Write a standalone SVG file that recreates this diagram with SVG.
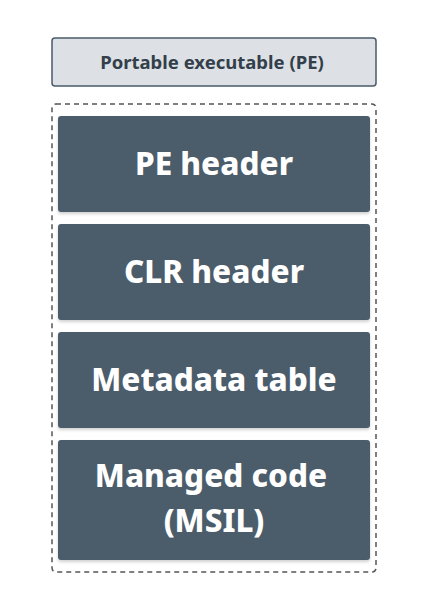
<svg xmlns="http://www.w3.org/2000/svg" width="427" height="614" viewBox="0 0 427 614">
<defs>
<style>
.blk{fill:#4b5b6b;}
.t{font-family:"Noto Sans","DejaVu Sans",sans-serif;font-weight:800;fill:#ffffff;text-anchor:middle;font-size:31.5px;}
.lbl{font-family:"Noto Sans","DejaVu Sans",sans-serif;font-weight:bold;fill:#333f4a;text-anchor:middle;font-size:18.5px;}
</style>
<filter id="sh" x="-5%" y="-5%" width="110%" height="115%">
<feDropShadow dx="0" dy="2" stdDeviation="1.5" flood-color="#000" flood-opacity="0.18"/>
</filter>
</defs>
<rect width="427" height="614" fill="#ffffff"/>
<g id="pe">
<rect x="52" y="38" width="324" height="48" rx="3" fill="#dde0e4" stroke="#4a5a6a" stroke-width="1.5"/>
<text class="lbl" x="212" y="69">Portable executable (PE)</text>
</g>
<g id="container">
<rect x="52" y="104" width="324" height="468" rx="4" fill="none" stroke="#555" stroke-width="1.5" stroke-dasharray="5,4"/>
</g>
<g id="pe-header">
<rect class="blk" x="58" y="116" width="312" height="96" rx="3" filter="url(#sh)"/>
<text class="t" x="214" y="175">PE header</text>
</g>
<g id="clr-header">
<rect class="blk" x="58" y="224" width="312" height="96" rx="3" filter="url(#sh)"/>
<text class="t" x="214" y="283">CLR header</text>
</g>
<g id="metadata">
<rect class="blk" x="58" y="332" width="312" height="96" rx="3" filter="url(#sh)"/>
<text class="t" x="214" y="391">Metadata table</text>
</g>
<g id="managed">
<rect class="blk" x="58" y="440" width="312" height="120" rx="3" filter="url(#sh)"/>
<text class="t" x="211" y="487">Managed code</text>
<text class="t" x="214" y="532">(MSIL)</text>
</g>
<g id="connectors"></g>
</svg>
